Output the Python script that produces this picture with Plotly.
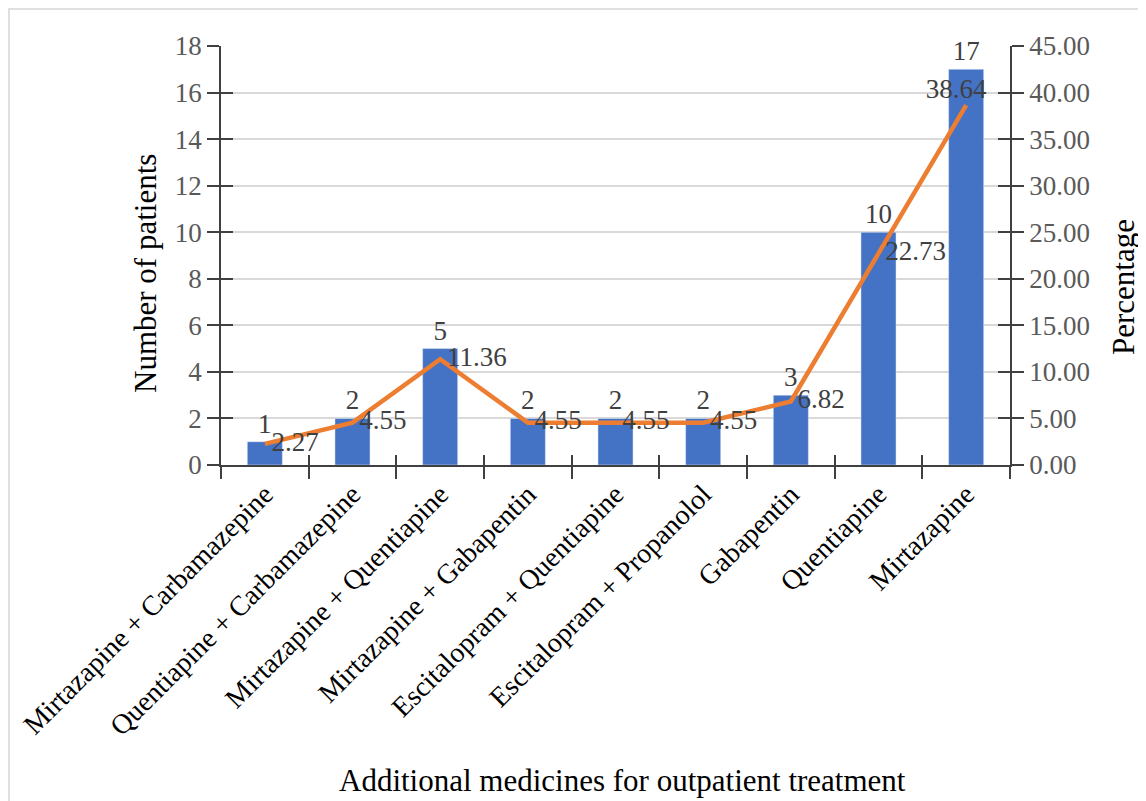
import plotly.graph_objects as go

categories = ["Mirtazapine + Carbamazepine", "Quentiapine + Carbamazepine",
              "Mirtazapine + Quentiapine", "Mirtazapine + Gabapentin",
              "Escitalopram + Quentiapine", "Escitalopram + Propanolol",
              "Gabapentin", "Quentiapine", "Mirtazapine"]
patients = [1, 2, 5, 2, 2, 2, 3, 10, 17]
percentage = [2.27, 4.55, 11.36, 4.55, 4.55, 4.55, 6.82, 22.73, 38.64]

FONT = "Liberation Serif"
W, H = 1138, 793
L, R, T, B = 213, 1002, 38, 457
pw, ph = R - L, B - T
NB = "\u00a0"

fig = go.Figure()
fig.add_trace(go.Bar(
    x=categories, y=patients, marker_color="#4472C4",
    text=[str(v) for v in patients], textposition="outside",
    textfont=dict(family=FONT, size=27, color="#404040"),
    cliponaxis=False, yaxis="y", xaxis="x", showlegend=False))
pct_text = [NB + f"{v:.2f}" for v in percentage[:-1]] + [f"{percentage[-1]:.2f}" + NB * 3]
pos = ["middle right"] * (len(percentage) - 1) + ["top center"]
fig.add_trace(go.Scatter(
    x=categories, y=percentage, mode="lines+text",
    line=dict(color="#ED7D31", width=4.5),
    text=pct_text, textposition=pos,
    textfont=dict(family=FONT, size=27, color="#404040"),
    cliponaxis=False, yaxis="y2", xaxis="x", showlegend=False))

tickfont = dict(family=FONT, size=27, color="#595959")
titlefont = dict(family=FONT, size=31, color="#000000")
fig.update_layout(
    width=W, height=H,
    margin=dict(l=L, r=W - R, t=T, b=H - B, autoexpand=False),
    paper_bgcolor="white", plot_bgcolor="white",
    bargap=0.6,
    font=dict(family=FONT),
    xaxis=dict(type="category", tickangle=-45, tickson="boundaries",
               ticks="outside", ticklen=12, tickcolor="#404040", tickwidth=1.5,
               tickfont=dict(family=FONT, size=28, color="#000000"),
               showline=True, linecolor="#404040", linewidth=1.5,
               showgrid=False, zeroline=False),
    xaxis2=dict(type="category", overlaying="x", matches="x", tickson="boundaries",
                ticks="inside", ticklen=10, tickcolor="#404040", tickwidth=1.5,
                showticklabels=False, showgrid=False, showline=False,
                zeroline=False, side="bottom", categoryarray=categories,
                categoryorder="array"),
    yaxis=dict(range=[0, 18], dtick=2, ticks="outside", ticklen=12,
               tickcolor="#404040", tickwidth=1.5, tickfont=tickfont,
               showline=True, linecolor="#404040", linewidth=1.5,
               showgrid=True, gridcolor="#d9d9d9", gridwidth=1.5,
               zeroline=False),
    yaxis3=dict(range=[0, 18], dtick=2, overlaying="y", side="left",
                ticks="inside", ticklen=12, tickcolor="#404040", tickwidth=1.5,
                showticklabels=False, showgrid=False, zeroline=False,
                showline=False),
    yaxis2=dict(range=[0, 45], dtick=5, tickformat=".2f", overlaying="y",
                side="right", ticks="outside", ticklen=12,
                tickcolor="#404040", tickwidth=1.5, tickfont=tickfont,
                showline=True, linecolor="#404040", linewidth=1.5,
                showgrid=False, zeroline=False),
    yaxis4=dict(range=[0, 45], dtick=5, overlaying="y", side="right",
                ticks="inside", ticklen=12, tickcolor="#404040", tickwidth=1.5,
                showticklabels=False, showgrid=False, zeroline=False,
                showline=False),
    annotations=[
        dict(text="Additional medicines for outpatient treatment",
             xref="paper", yref="paper",
             x=(614 - L) / pw, y=(B - 772) / ph,
             xanchor="center", yanchor="middle", showarrow=False, font=titlefont),
        dict(text="Number of patients", textangle=-90,
             xref="paper", yref="paper",
             x=(137 - L) / pw, y=(B - 266) / ph,
             xanchor="center", yanchor="middle", showarrow=False, font=titlefont),
        dict(text="Percentage", textangle=-90,
             xref="paper", yref="paper",
             x=(1115 - L) / pw, y=(B - 279) / ph,
             xanchor="center", yanchor="middle", showarrow=False, font=titlefont),
    ],
)

# invisible traces to anchor the tick-only overlay axes
fig.add_trace(go.Scatter(x=categories, y=[None] * len(categories), xaxis="x2",
                         yaxis="y3", showlegend=False, hoverinfo="skip"))
fig.add_trace(go.Scatter(x=categories, y=[None] * len(categories), xaxis="x2",
                         yaxis="y4", showlegend=False, hoverinfo="skip"))

fig.add_shape(type="rect", xref="paper", yref="paper",
              x0=(1 - L) / pw, x1=(1200 - L) / pw,
              y0=(B - 850) / ph, y1=(B - 1) / ph,
              line=dict(color="#e0e0e0", width=2), fillcolor="rgba(0,0,0,0)",
              layer="below")

fig.write_html("out.html")
